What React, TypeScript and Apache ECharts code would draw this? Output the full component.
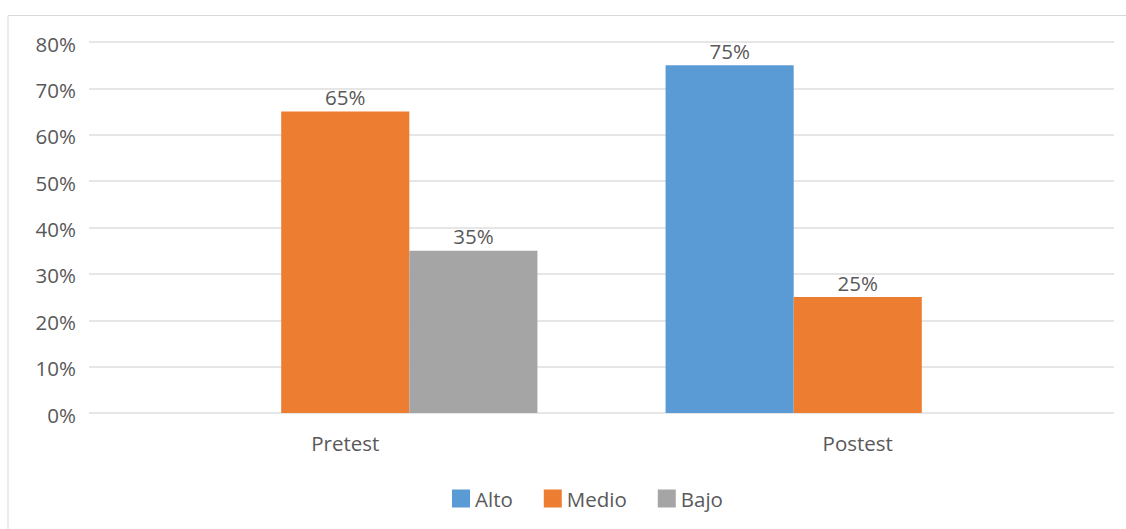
import React, { useEffect, useRef } from "react";
import * as echarts from "echarts";

const categories = ["Pretest", "Postest"];
const seriesNames = ["Alto", "Medio", "Bajo"];
const altoValues: (number | null)[] = [null, 75];
const medioValues: (number | null)[] = [65, 25];
const bajoValues: (number | null)[] = [35, null];
const seriesColors = ["#5B9BD5", "#ED7D31", "#A5A5A5"];
const yTicks = [0, 10, 20, 30, 40, 50, 60, 70, 80];

const FONT = "'Open Sans', 'Noto Sans', sans-serif";
const TEXT = "#595959";
const FS = 20.5;

export default function App() {
  const ref = useRef<HTMLDivElement>(null);
  useEffect(() => {
    if (!ref.current) return;
    const chart = echarts.init(ref.current, undefined, { renderer: "svg" });
    const allValues = [altoValues, medioValues, bajoValues];
    chart.setOption({
      animation: false,
      backgroundColor: "#ffffff",
      textStyle: { fontFamily: FONT },
      graphic: [
        {
          type: "rect",
          shape: { x: 8, y: 15.5, width: 1130, height: 530 },
          style: { fill: "none", stroke: "#d9d9d9", lineWidth: 1 },
          silent: true,
        },
      ],
      grid: { left: 89, right: 12, top: 42, bottom: 116, containLabel: false },
      legend: {
        data: seriesNames,
        top: 483,
        left: 447,
        itemWidth: 18,
        itemHeight: 18,
        itemGap: 31,
        icon: "rect",
        textStyle: { color: TEXT, fontSize: FS, fontFamily: FONT },
      },
      xAxis: {
        type: "category",
        data: categories,
        axisLine: { show: false },
        axisTick: { show: false },
        axisLabel: { color: TEXT, fontSize: FS, margin: 19, fontFamily: FONT },
      },
      yAxis: {
        type: "value",
        min: yTicks[0],
        max: yTicks[yTicks.length - 1],
        interval: 10,
        axisLine: { show: false },
        axisTick: { show: false },
        axisLabel: {
          color: TEXT,
          fontSize: FS,
          margin: 13,
          fontFamily: FONT,
          formatter: (v: number) => `${v}%`,
          verticalAlign: "top",
          lineHeight: 21,
          padding: [-9, 0, 0, 0],
        },
        splitLine: { lineStyle: { color: "#dedede", width: 1.5 } },
      },
      series: seriesNames.map((name, i) => ({
        name,
        type: "bar",
        data: allValues[i].map((v) => (v === null ? "-" : v)),
        barGap: "0%",
        barCategoryGap: "25%",
        itemStyle: { color: seriesColors[i] },
        label: {
          show: true,
          position: "top",
          distance: 4,
          color: TEXT,
          fontSize: FS,
          fontFamily: FONT,
          formatter: (p: any) => `${p.value}%`,
        },
      })),
    });
    return () => chart.dispose();
  }, []);
  return (
    <div
      ref={ref}
      style={{ position: "fixed", left: 0, top: 0, width: 1126, height: 529, background: "#fff" }}
    />
  );
}
